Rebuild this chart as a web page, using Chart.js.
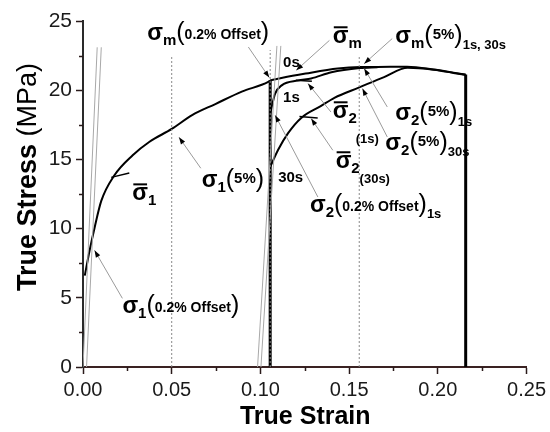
<!DOCTYPE html>
<html>
<head>
<meta charset="utf-8">
<script src="https://cdn.jsdelivr.net/npm/chart.js@4.4.1/dist/chart.umd.min.js"></script>
<style>
  html, body { margin: 0; padding: 0; background: #fff; }
</style>
</head>
<body>
<canvas id="chart" width="550" height="432"></canvas>
<script>
// first loading curve
const load1Strain = [0.001, 0.0037, 0.0066, 0.0103, 0.0177, 0.028, 0.0373, 0.05, 0.0615, 0.0746, 0.0895, 0.1044, 0.1055];
const load1Stress = [6.6, 8.4, 10.1, 12.0, 13.85, 15.3, 16.26, 17.2, 18.2, 19.0, 19.9, 20.6, 20.7];

// reloading after 0 s, 1 s, 30 s hold
const reload0Strain = [0.1055, 0.1125, 0.1255, 0.1436, 0.1566, 0.166, 0.1827, 0.1977, 0.2088, 0.2157];
const reload0Stress = [20.7, 20.9, 21.2, 21.56, 21.67, 21.68, 21.7, 21.5, 21.27, 21.13];

const reload1Strain = [0.1055, 0.1083, 0.112, 0.1212, 0.1286, 0.14, 0.156, 0.166];
const reload1Stress = [18.3, 19.75, 20.35, 20.7, 20.85, 21.3, 21.6, 21.66];

const reload30Strain = [0.1055, 0.110, 0.1156, 0.123, 0.134, 0.1417, 0.1557, 0.1697, 0.183, 0.1977, 0.2088, 0.2157];
const reload30Stress = [14.45, 15.7, 16.9, 18.0, 18.85, 19.45, 20.2, 20.95, 21.62, 21.48, 21.25, 21.1];

// unloading lines
const unloadStrain = [0.1055, 0.2157];
const unloadTop = [20.7, 21.13];

// 0.2% offset elastic lines
const offsetLines = [
  [[0, 0], [0.008, 23.1]],
  [[0.002, 0], [0.0103, 23.1]],
  [[0.0984, 0], [0.1093, 23.2]],
  [[0.1003, 0], [0.1115, 23.2]]
];

// 5% strain reference lines
const refStrain = [0.05, 0.1055, 0.1557];
const refTop = [22.4, 22.9, 22.5];

// average stress markers
const markers = [
  [[0.0159, 13.7], [0.0261, 14.02]],
  [[0.120, 20.72], [0.129, 20.65]],
  [[0.122, 18.1], [0.1323, 18.0]]
];

const xTicks = [0, 0.05, 0.10, 0.15, 0.20, 0.25];
const xLabels = ['0.00', '0.05', '0.10', '0.15', '0.20', '0.25'];
const xMinor = [0.025, 0.075, 0.125, 0.175, 0.225];
const yTicks = [0, 5, 10, 15, 20, 25];
const yMinor = [2.5, 7.5, 12.5, 17.5, 22.5];

// arrows: [from, tip]
const arrows = [
  [[0.0932, 23.12], [0.1050, 20.91]],
  [[0.1389, 23.6], [0.1202, 21.44]],
  [[0.1743, 23.73], [0.1585, 21.92]],
  [[0.1398, 18.42], [0.1268, 20.48]],
  [[0.1715, 18.79], [0.1585, 21.56]],
  [[0.1715, 16.62], [0.1575, 20.12]],
  [[0.1408, 15.66], [0.1286, 17.95]],
  [[0.1324, 12.28], [0.1083, 18.19]],
  [[0.0664, 14.36], [0.0541, 16.6]],
  [[0.0222, 4.96], [0.0065, 8.43]]
];

const FONT = '"Liberation Sans", Arial, sans-serif';
const sig = { t: 'σ', s: 23, b: true };
const sub = (t) => ({ t: t, s: 15, b: true, dy: 5 });
const po = { t: '(', s: 25 };
const pc = { t: ')', s: 25 };
const inner = (t) => ({ t: t, s: 14, b: true, dy: -1 });
const pct = (t) => ({ t: t, s: 15, b: true, dy: -4 });
const tail = (t) => ({ t: t, s: 13, b: true, dy: 6, gap: 1 });
const word = (t) => ({ t: t, s: 15, b: true });
const barSig = { t: 'σ', s: 23, b: true, bar: true };

const labels = [
  { at: [0.0362, 23.6], runs: [sig, sub('m'), po, inner('0.2% Offset'), pc] },
  { at: [0.1408, 23.39], runs: [barSig, sub('m')] },
  { at: [0.1128, 21.65], runs: [word('0s')] },
  { at: [0.1760, 23.39], runs: [sig, sub('m'), po, pct('5%'), pc, tail('1s, 30s')] },
  { at: [0.1128, 19.13], runs: [word('1s')] },
  { at: [0.1408, 17.97], runs: [barSig, sub('2')] },
  { at: [0.1537, 16.16], runs: [{ t: '(1s)', s: 13, b: true }] },
  { at: [0.1760, 17.83], runs: [sig, sub('2'), po, pct('5%'), pc, tail('1s')] },
  { at: [0.1704, 15.66], runs: [sig, sub('2'), po, pct('5%'), pc, tail('30s')] },
  { at: [0.1424, 14.36], runs: [barSig, sub('2')] },
  { at: [0.1559, 13.27], runs: [{ t: '(30s)', s: 13, b: true }] },
  { at: [0.1100, 13.35], runs: [word('30s')] },
  { at: [0.1279, 11.18], runs: [sig, sub('2'), po, inner('0.2% Offset'), pc, tail('1s')] },
  { at: [0.0669, 13.0], runs: [sig, sub('1'), po, pct('5%'), pc] },
  { at: [0.0278, 12.04], runs: [barSig, sub('1')] },
  { at: [0.0222, 3.88], runs: [sig, sub('1'), po, inner('0.2% Offset'), pc] }
];

function pts(xs, ys) {
  return xs.map((x, i) => ({ x: x, y: ys[i] }));
}

function lineSet(data, color, width, extra) {
  return Object.assign({
    data: data, showLine: true, borderColor: color, borderWidth: width,
    pointRadius: 0, fill: false
  }, extra || {});
}

const datasets = [];
offsetLines.forEach(l => datasets.push(lineSet(l.map(p => ({ x: p[0], y: p[1] })), '#a8a8a8', 1)));
refStrain.forEach((x, i) => datasets.push(lineSet([{ x: x, y: 0 }, { x: x, y: refTop[i] }], '#888', 1, { borderDash: [2, 2] })));
datasets.push(lineSet(pts(load1Strain, load1Stress), '#000', 2, { cubicInterpolationMode: 'monotone' }));
datasets.push(lineSet(pts(reload30Strain, reload30Stress), '#000', 2, { cubicInterpolationMode: 'monotone' }));
datasets.push(lineSet(pts(reload1Strain, reload1Stress), '#000', 2, { cubicInterpolationMode: 'monotone' }));
datasets.push(lineSet(pts(reload0Strain, reload0Stress), '#000', 2, { cubicInterpolationMode: 'monotone' }));
unloadStrain.forEach((x, i) => datasets.push(lineSet([{ x: x, y: unloadTop[i] }, { x: x, y: 0 }], '#000', 3)));
markers.forEach(m => datasets.push(lineSet(m.map(p => ({ x: p[0], y: p[1] })), '#000', 1.5)));

function drawRich(ctx, x, y, runs) {
  let cx = x;
  runs.forEach(r => {
    ctx.font = (r.b ? 'bold ' : '') + r.s + 'px ' + FONT;
    const w = ctx.measureText(r.t).width;
    ctx.fillText(r.t, cx, y + (r.dy || 0));
    if (r.bar) {
      ctx.fillRect(cx + 1, y - 17, w - 2, 2);
    }
    cx += w + (r.gap || 0);
  });
}

const decor = {
  id: 'decor',
  afterDatasetsDraw(chart) {
    const ctx = chart.ctx;
    const xs = chart.scales.x, ys = chart.scales.y;
    const ca = chart.chartArea;
    ctx.save();
    // minor ticks
    ctx.strokeStyle = '#2a1a1a';
    ctx.lineWidth = 1.5;
    xMinor.forEach(v => {
      const px = Math.round(xs.getPixelForValue(v)) + 0.5;
      ctx.beginPath(); ctx.moveTo(px, ca.bottom); ctx.lineTo(px, ca.bottom + 4); ctx.stroke();
    });
    yMinor.forEach(v => {
      const py = Math.round(ys.getPixelForValue(v)) + 0.5;
      ctx.beginPath(); ctx.moveTo(ca.left, py); ctx.lineTo(ca.left - 4, py); ctx.stroke();
    });
    // arrows
    arrows.forEach(a => {
      const x1 = xs.getPixelForValue(a[0][0]), y1 = ys.getPixelForValue(a[0][1]);
      const x2 = xs.getPixelForValue(a[1][0]), y2 = ys.getPixelForValue(a[1][1]);
      ctx.strokeStyle = '#9a9a9a';
      ctx.lineWidth = 1;
      ctx.beginPath(); ctx.moveTo(x1, y1); ctx.lineTo(x2, y2); ctx.stroke();
      const ang = Math.atan2(y2 - y1, x2 - x1);
      ctx.fillStyle = '#000';
      ctx.beginPath();
      ctx.moveTo(x2, y2);
      ctx.lineTo(x2 - 7 * Math.cos(ang) + 2.5 * Math.sin(ang), y2 - 7 * Math.sin(ang) - 2.5 * Math.cos(ang));
      ctx.lineTo(x2 - 7 * Math.cos(ang) - 2.5 * Math.sin(ang), y2 - 7 * Math.sin(ang) + 2.5 * Math.cos(ang));
      ctx.closePath();
      ctx.fill();
    });
    // labels
    ctx.fillStyle = '#000';
    ctx.textBaseline = 'alphabetic';
    ctx.textAlign = 'left';
    labels.forEach(l => {
      drawRich(ctx, xs.getPixelForValue(l.at[0]), ys.getPixelForValue(l.at[1]), l.runs);
    });
    // axis titles
    ctx.fillStyle = '#000';
    ctx.font = 'bold 25px ' + FONT;
    ctx.textAlign = 'center';
    ctx.fillText('True Strain', (ca.left + ca.right) / 2 + 0.5, 424);
    ctx.translate(36, 177);
    ctx.rotate(-Math.PI / 2);
    ctx.textAlign = 'left';
    ctx.font = 'bold 27px ' + FONT;
    const t1 = 'True Stress ';
    const w1 = ctx.measureText(t1).width;
    ctx.font = '27px ' + FONT;
    const t2 = '(MPa)';
    const w2 = ctx.measureText(t2).width;
    const start = -(w1 + w2) / 2;
    ctx.font = 'bold 27px ' + FONT;
    ctx.fillText(t1, start, 0);
    ctx.font = '27px ' + FONT;
    ctx.fillText(t2, start + w1, 0);
    ctx.restore();
  }
};

new Chart(document.getElementById('chart'), {
  type: 'scatter',
  data: { datasets: datasets },
  options: {
    responsive: false,
    animation: false,
    devicePixelRatio: 1,
    layout: { padding: { top: 21, right: 19, left: 0, bottom: 0 } },
    plugins: { legend: { display: false }, tooltip: { enabled: false } },
    scales: {
      x: {
        type: 'linear', min: 0, max: 0.25,
        afterBuildTicks: s => { s.ticks = xTicks.map(v => ({ value: v })); },
        afterFit: s => { s.height = 65; },
        ticks: {
          callback: (v, i) => xLabels[i],
          font: { family: FONT, size: 20 }, color: '#1a1a1a', padding: 4, maxRotation: 0
        },
        grid: { display: true, drawOnChartArea: false, drawTicks: true, tickLength: 7, tickColor: '#2a1a1a', tickWidth: 1.5 },
        border: { display: true, color: '#3a2222', width: 2 }
      },
      y: {
        type: 'linear', min: 0, max: 25,
        afterBuildTicks: s => { s.ticks = yTicks.map(v => ({ value: v })); },
        afterFit: s => { s.width = 83; },
        ticks: {
          font: { family: FONT, size: 21 }, color: '#1a1a1a', padding: 4
        },
        grid: { display: true, drawOnChartArea: false, drawTicks: true, tickLength: 7, tickColor: '#2a1a1a', tickWidth: 1.5 },
        border: { display: true, color: '#2a2a2a', width: 2 }
      }
    }
  },
  plugins: [decor]
});
</script>
</body>
</html>
